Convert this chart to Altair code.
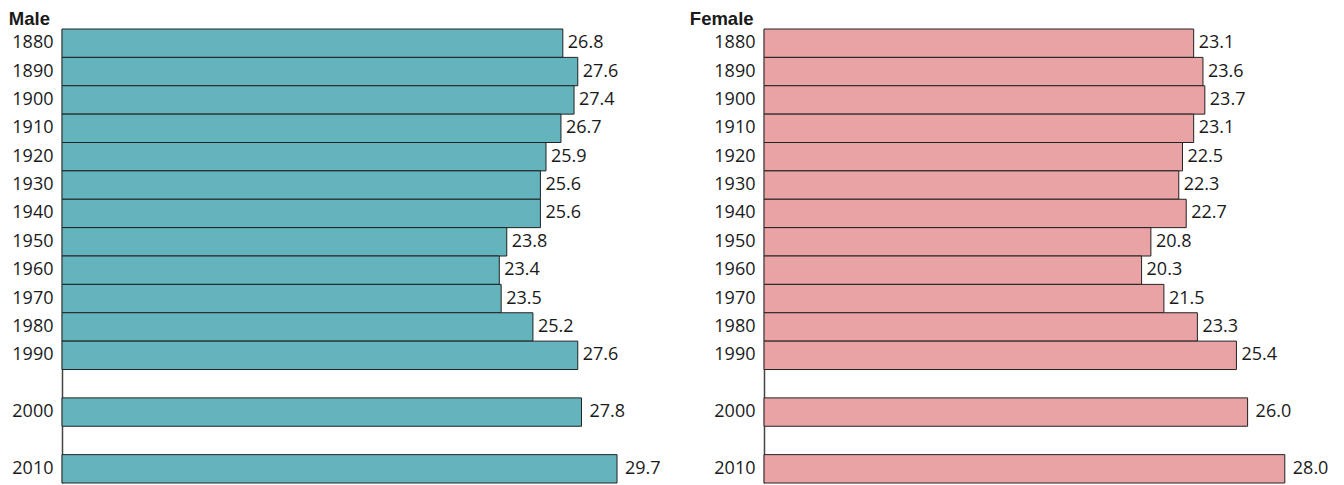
import altair as alt
import pandas as pd

years = ["1880", "1890", "1900", "1910", "1920", "1930", "1940",
         "1950", "1960", "1970", "1980", "1990", "2000", "2010"]
male = [26.8, 27.6, 27.4, 26.7, 25.9, 25.6, 25.6, 23.8, 23.4, 23.5, 25.2, 27.6, 27.8, 29.7]
female = [23.1, 23.6, 23.7, 23.1, 22.5, 22.3, 22.7, 20.8, 20.3, 21.5, 23.3, 25.4, 26.0, 28.0]

# row order with empty rows between 1990/2000 and 2000/2010
row_order = years[:12] + [" "] + ["2000"] + ["  "] + ["2010"]

FONT = "Open Sans"
TITLE_FONT = "Liberation Sans"
TXT = "#1a1a1a"


def panel(vals, title, color, xmax, width, title_dx):
    df = pd.DataFrame({"year": years, "age": vals})
    df["late"] = df["year"].isin(["2000", "2010"])
    base = alt.Chart(df).encode(
        y=alt.Y(
            "year:N",
            scale=alt.Scale(domain=row_order, paddingInner=0, paddingOuter=0),
            axis=alt.Axis(
                title=None, ticks=False, tickSize=0, labelPadding=9,
                domainColor="#444444", domainWidth=1.5, grid=False,
                labelFont=FONT, labelFontSize=18, labelColor=TXT,
            ),
        ),
        x=alt.X("age:Q", scale=alt.Scale(domain=[0, xmax], nice=False, zero=True), axis=None),
    )
    bars = base.mark_bar(color=color, stroke="#222222", strokeWidth=1)
    lab1 = base.transform_filter("!datum.late").mark_text(
        align="left", baseline="middle", dx=5, font=FONT, fontSize=18, color=TXT
    ).encode(text=alt.Text("age:Q", format=".1f"))
    lab2 = base.transform_filter("datum.late").mark_text(
        align="left", baseline="middle", dx=8, font=FONT, fontSize=18, color=TXT
    ).encode(text=alt.Text("age:Q", format=".1f"))
    return alt.layer(bars, lab1, lab2).properties(
        width=width, height=454,
        title=alt.TitleParams(
            text=title, anchor="start", font=TITLE_FONT, fontSize=18.5, fontWeight="bold",
            color=TXT, offset=0, dx=title_dx,
        ),
    )


chart = alt.hconcat(
    panel(male, "Male", "#64B4BD", 32, 598, -3),
    panel(female, "Female", "#E9A3A5", 30, 558, -24),
    spacing=28,
).properties(
    padding={"left": 0, "top": 2, "right": 0, "bottom": 0}
).configure_view(stroke=None)

chart.save("out.html", embed_options={"renderer": "svg", "actions": False})
